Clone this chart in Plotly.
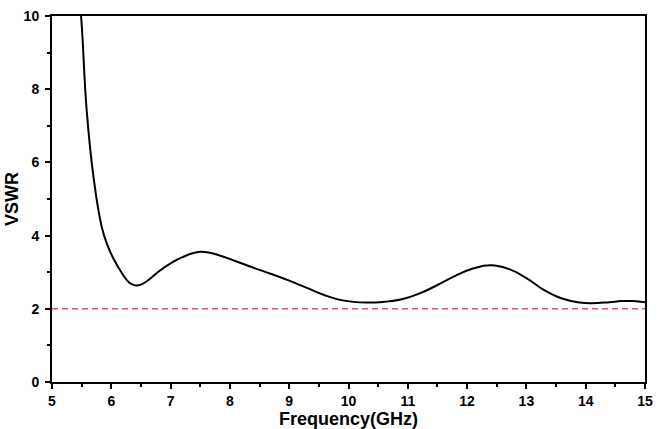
import plotly.graph_objects as go

freq = [5.40, 5.49, 5.585, 5.70, 5.84, 5.94, 6.04, 6.18, 6.3, 6.4, 6.5, 6.62, 6.8, 7.0, 7.2, 7.5, 7.8,
        8.1, 8.4, 8.7, 9.0, 9.3, 9.6, 9.9, 10.3, 10.6, 10.9, 11.2, 11.5, 11.8,
        12.1, 12.4, 12.7, 13.0, 13.3, 13.6, 13.9, 14.1, 14.4, 14.6, 14.8, 15.0]
vswr = [11.5, 10.0, 7.42, 5.60, 4.23, 3.72, 3.36, 2.97, 2.72, 2.64, 2.66, 2.78, 3.02, 3.24, 3.41, 3.56, 3.47,
        3.30, 3.12, 2.95, 2.77, 2.57, 2.37, 2.23, 2.17, 2.19, 2.26, 2.42, 2.65, 2.90,
        3.10, 3.19, 3.09, 2.84, 2.51, 2.28, 2.17, 2.15, 2.18, 2.21, 2.21, 2.18]
ref_x = [5, 15]
ref_y = [2, 2]

fig = go.Figure()
fig.add_trace(go.Scatter(x=ref_x, y=ref_y, mode="lines",
                         line=dict(color="#e0505c", width=1.5, dash="6px,4px"), showlegend=False))
fig.add_trace(go.Scatter(x=freq, y=vswr, mode="lines",
                         line=dict(color="black", width=2, shape="spline", smoothing=1.3),
                         showlegend=False))

font = dict(family="Liberation Sans, Arial, sans-serif", color="black")
fig.update_layout(
    width=665, height=429,
    margin=dict(l=52, r=20, t=16, b=47),
    paper_bgcolor="white", plot_bgcolor="white",
    font=font,
)
common = dict(showgrid=False, zeroline=False, automargin=False,
              showline=True, linecolor="black", linewidth=2, mirror=True,
              ticks="outside", ticklen=5, tickwidth=2, tickcolor="black",
              tickfont=dict(size=14, family="Liberation Sans", weight="bold"))
fig.update_xaxes(range=[5, 15], dtick=1, tick0=5,
                 minor=dict(ticks="outside", dtick=0.5, ticklen=3, tickwidth=2, tickcolor="black"),
                 title=dict(text="<b>Frequency(GHz)</b>", font=dict(size=18), standoff=4),
                 **common)
fig.update_yaxes(range=[0, 10], dtick=2, tick0=0,
                 minor=dict(ticks="outside", dtick=1, ticklen=3, tickwidth=2, tickcolor="black"),
                 ticklabelstandoff=3,
                 title=dict(text="<b>VSWR</b>", font=dict(size=18), standoff=0),
                 **common)

fig.write_html("out.html")
